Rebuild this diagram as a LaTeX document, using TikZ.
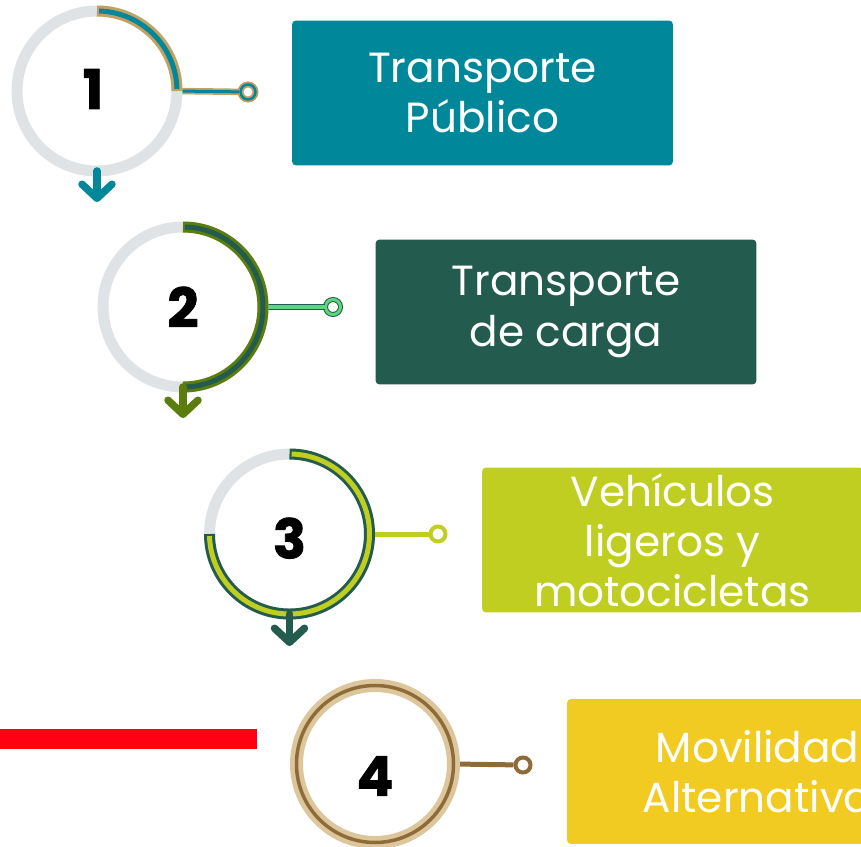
\documentclass[tikz,border=0pt]{standalone}
\usepackage{fontspec}
\setmainfont{Poppins}
\newfontfamily\numfont[BoldFeatures={FakeBold=1.5}]{Poppins}
\usepackage{xcolor}
\usepackage{tikz}
\usetikzlibrary{arrows.meta, positioning}
\definecolor{petrol}{RGB}{0, 135, 154}
\definecolor{sand}{RGB}{196, 160, 98}
\definecolor{pine}{RGB}{35, 91, 78}
\definecolor{olive}{RGB}{91, 125, 14}
\definecolor{mint}{RGB}{92, 214, 122}
\definecolor{lime}{RGB}{192, 206, 34}
\definecolor{sun}{RGB}{242, 203, 34}
\definecolor{wheat}{RGB}{221, 198, 155}
\definecolor{bronze}{RGB}{142, 108, 58}
\definecolor{mist}{RGB}{224, 227, 230}
\definecolor{alarm}{RGB}{255, 0, 19}

\begin{document}
\begin{tikzpicture}[x=0.02cm, y=-0.02cm,
    ring/.style={circle, minimum size=32mm, inner sep=0pt, outer sep=0pt, font=\fontsize{31}{31}\numfont\bfseries},
    track/.style={mist, line width=2.2mm},
    tag/.style={rounded corners=0.8mm, minimum width=76.2mm, minimum height=29mm, inner sep=0pt, text=white, align=center, font=\fontsize{24}{28.5}\selectfont},
    dot/.style={circle, minimum size=3mm, inner sep=0pt, fill=white},
    chev/.style={line width=1.5mm, line cap=round, -{Straight Barb[round, length=2.8mm, width=6mm]}}]
    \useasboundingbox (0,0) rectangle (861,847);

    % Red bar
    \fill[alarm] (0,729) rectangle (257,749);

    % Step circles
    \node[ring] (c1) at (97,91) {\raisebox{0.4mm}[\height][0pt]{\hspace*{-1.6mm}1}};
    \node[ring] (c2) at (183,307) {2};
    \node[ring] (c3) at (289.5,534) {\raisebox{-0.8mm}[\height][0pt]{3}};
    \node[ring, minimum size=31.4mm] (c4) at (375,764) {\raisebox{-2.4mm}[\height][0pt]{4}};

    % Boxes
    \node[tag, fill=petrol] (b1) at (482.5,93) {Transporte\\Público};
    \node[tag, fill=pine] (b2) at (566,312) {Transporte\\de carga};
    \node[tag, fill=lime] (b3) at (672.5,540) {Vehículos\\ligeros y\\motocicletas};
    \node[tag, fill=sun] (b4) at (757.5,771.5) {Movilidad\\Alternativa};

    % End dots
    \node[dot, draw=sand, double=petrol, line width=0.35mm, double distance=0.5mm] (d1) at (248,92) {};
    \node[dot, draw=pine, double=mint, line width=0.2mm, double distance=0.6mm] (d2) at (333,307) {};
    \node[dot, draw=lime, line width=0.8mm] (d3) at (438,534) {};
    \node[dot, draw=bronze, line width=0.8mm] (d4) at (523,765) {};

    % Connectors
    \draw[sand, double=petrol, line width=0.35mm, double distance=0.6mm] (c1.east) -- (d1);
    \draw[pine, double=mint, line width=0.2mm, double distance=0.8mm] (c2.east) -- (d2);
    \draw[lime, line width=1mm] (c3.east) -- (d3);
    \draw[bronze, line width=1mm] (c4.east) -- (d4);

    % Rings
    \draw[track] (c1) circle[radius=80];
    \draw[sand, line width=2.2mm] (c1.north) arc[start angle=-90, end angle=0, radius=80];
    \draw[petrol, line width=1mm] (c1) ++(-88.5:80) arc[start angle=-88.5, end angle=-1.5, radius=80];

    \draw[track] (c2) circle[radius=80];
    \draw[olive, line width=2.2mm] (c2.north) arc[start angle=-90, end angle=90, radius=80];
    \draw[pine, line width=1mm] (c2) ++(-88.5:80) arc[start angle=-88.5, end angle=88.5, radius=80];

    \draw[track] (c3) circle[radius=80];
    \draw[pine, line width=2.2mm] (c3.north) arc[start angle=-90, end angle=180, radius=80];
    \draw[lime, line width=1mm] (c3) ++(-88.5:80) arc[start angle=-88.5, end angle=178.5, radius=80];

    \draw[wheat, line width=2.6mm] (c4) circle[radius=78.5];
    \draw[bronze, line width=0.7mm] (c4) circle[radius=78.5];

    % Down arrows
    \coordinate (t1) at (97,202);
    \coordinate (t2) at (183,418);
    \coordinate (t3) at (289.5,646);
    \draw[chev, petrol] (c1.south) -- (t1);
    \draw[chev, olive] (c2.south) -- (t2);
    \draw[chev, pine] (c3.south) -- (t3);
\end{tikzpicture}
\end{document}
